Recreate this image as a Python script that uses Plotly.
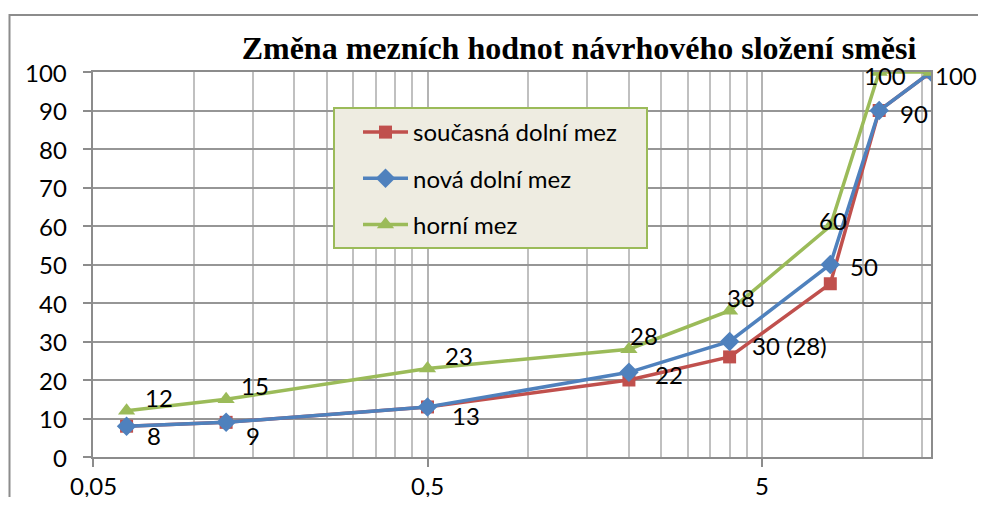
import math
import plotly.graph_objects as go

# sieve sizes (mm) and passing percentages
sita = [0.063, 0.125, 0.5, 2, 4, 8, 11.2, 16]
soucasna_dolni = [8, 9, 13, 20, 26, 45, 90, 100]
nova_dolni = [8, 9, 13, 22, 30, 50, 90, 100]
horni = [12, 15, 23, 28, 38, 60, 100, 100]

popisky_nova = ['8', '9', '13', '22', '30 (28)', '50', '90', '100']
popisky_horni = ['12', '15', '23', '28', '38', '60', '100', '']

x_ticks = [0.05, 0.5, 5]
x_ticktext = ['0,05', '0,5', '5']
x_minor = [0.1, 0.15, 0.2, 0.25, 0.3, 0.35, 0.4, 0.45,
           1, 1.5, 2, 2.5, 3, 3.5, 4, 4.5, 10, 15]
y_ticks = [0, 10, 20, 30, 40, 50, 60, 70, 80, 90, 100]

FONT = 'Lato'
FS = 24
RED, BLUE, GREEN = '#C0504D', '#4F81BD', '#9BBB59'

# page body has an 8px margin, the figure is sized to fit inside the window
W, H = 970, 489

fig = go.Figure()
fig.add_trace(go.Scatter(x=sita, y=soucasna_dolni, name='současná dolní mez',
                         mode='lines+markers', legendgroup='a',
                         line=dict(color=RED, width=3.5),
                         marker=dict(symbol='square', size=13, color=RED)))
fig.add_trace(go.Scatter(x=sita, y=nova_dolni, name='nová dolní mez',
                         mode='lines+markers', legendgroup='b',
                         line=dict(color=BLUE, width=3.5),
                         marker=dict(symbol='diamond', size=15, color=BLUE)))
fig.add_trace(go.Scatter(x=sita, y=horni, name='horní mez',
                         mode='lines+markers', legendgroup='c',
                         line=dict(color=GREEN, width=3.5),
                         marker=dict(symbol='triangle-up', size=15, color=GREEN)))

# label offsets in px (left edge from point, downward)
off_nova = [(18, 9), (18, 13), (22, 9), (24, 2), (20, 4), (18, 2), (19, 3), (2, 3)]
off_horni = [(16, -13), (13, -14), (15, -13), (-1, -14), (-5, -13), (-13, -6), (-17, 3), (0, 0)]

txtfont = dict(family=FONT, size=FS, color='black')
ann = []
for ys, txt, offs in [(nova_dolni, popisky_nova, off_nova),
                      (horni, popisky_horni, off_horni)]:
    for xv, yv, t, (dx, dy) in zip(sita, ys, txt, offs):
        if not t:
            continue
        ann.append(dict(x=math.log10(xv), y=yv, xref='x', yref='y', text=t,
                        showarrow=False, xanchor='left', yanchor='middle',
                        xshift=dx, yshift=-dy, font=txtfont))

# axis tick labels
for v in y_ticks:
    ann.append(dict(x=0, y=v, xref='paper', yref='y', text=str(v), showarrow=False,
                    xanchor='right', yanchor='middle', xshift=-24, font=txtfont))
for v, t in zip(x_ticks, x_ticktext):
    ann.append(dict(x=math.log10(v), y=0, xref='x', yref='paper', text=t,
                    showarrow=False, xanchor='center', yanchor='middle',
                    yshift=-28, font=txtfont))

fig.update_layout(
    width=W, height=H,
    margin=dict(l=85, r=8 + W - 931, t=64, b=8 + H - 457),
    paper_bgcolor='white', plot_bgcolor='white',
    title=dict(text='<b>Změna mezních hodnot návrhového složení směsi</b>',
               x=(579 - 8) / W, xref='container', xanchor='center',
               y=1 - 40 / H, yref='container', yanchor='middle',
               font=dict(family='Liberation Serif', size=32, color='black')),
    showlegend=True,
    legend=dict(x=(358 - 93) / 838, y=(457 - 110) / 385, xanchor='left', yanchor='top',
                bgcolor='rgba(0,0,0,0)', borderwidth=0, tracegroupgap=12,
                traceorder='grouped', itemwidth=45, font=txtfont),
    annotations=ann,
    shapes=[
        dict(type='rect', xref='paper', yref='paper',
             x0=(334 - 93) / 838, x1=(647 - 93) / 838,
             y0=(457 - 248) / 385, y1=(457 - 108) / 385,
             fillcolor='#EEECE1', line=dict(color=GREEN, width=2), layer='above'),
        dict(type='rect', xref='paper', yref='paper',
             x0=(9.5 - 93) / 838, x1=(1000 - 93) / 838,
             y0=(457 - 530) / 385, y1=(457 - 15) / 385,
             line=dict(color='#8C8C8C', width=2), layer='below'),
    ],
)

fig.update_xaxes(type='log', range=[math.log10(0.05), math.log10(16)],
                 tickmode='array', tickvals=x_ticks, showticklabels=False,
                 ticks='outside', ticklen=8, tickcolor='#8C8C8C', tickwidth=1.5,
                 automargin=False,
                 showgrid=True, gridcolor='#B4B4B4', gridwidth=1.5,
                 minor=dict(tickmode='array', tickvals=x_minor, showgrid=True,
                            gridcolor='#C0C0C0', gridwidth=1.5, ticks=''),
                 showline=True, linecolor='#8C8C8C', linewidth=1.5, mirror=True,
                 zeroline=False)
fig.update_yaxes(range=[0, 100], tickmode='array', tickvals=y_ticks,
                 showticklabels=False,
                 ticks='outside', ticklen=8, tickcolor='#8C8C8C', tickwidth=1.5,
                 automargin=False,
                 showgrid=True, gridcolor='#969696', gridwidth=1.5,
                 showline=True, linecolor='#8C8C8C', linewidth=1.5, mirror=True,
                 zeroline=False)

fig.write_html('out.html')
